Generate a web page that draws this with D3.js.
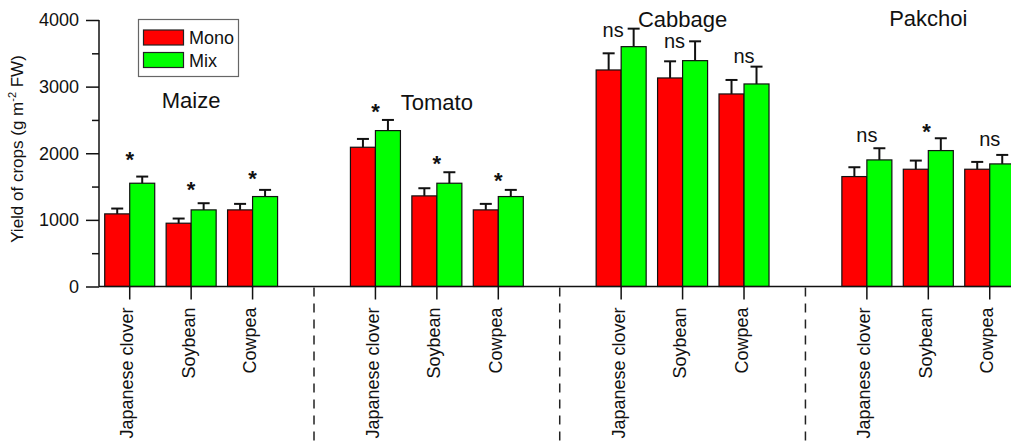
<!DOCTYPE html>
<html>
<head>
<meta charset="utf-8">
<script src="https://cdn.jsdelivr.net/npm/d3@7"></script>
<style>
  html, body { margin: 0; padding: 0; background: #fff; }
  svg { display: block; font-family: Arial, "Liberation Sans", Helvetica, sans-serif; }
</style>
</head>
<body>
<svg id="chart" width="1011" height="442"></svg>
<script>
// ---- data ----
const groups = ["Maize", "Tomato", "Cabbage", "Pakchoi"];
const crops = ["Japanese clover", "Soybean", "Cowpea"];
const series = ["Mono", "Mix"];
const monoValues = [[1090, 950, 1150], [2090, 1360, 1150], [3250, 3130, 2890], [1650, 1760, 1760]];
const monoErrors = [[80, 70, 90], [125, 115, 90], [250, 250, 210], [140, 130, 110]];
const mixValues  = [[1550, 1150, 1350], [2340, 1550, 1350], [3600, 3390, 3040], [1900, 2040, 1840]];
const mixErrors  = [[100, 100, 100], [160, 165, 100], [270, 290, 260], [175, 185, 135]];
const significance = [["*", "*", "*"], ["*", "*", "*"], ["ns", "ns", "ns"], ["ns", "*", "ns"]];
// baseline level (in yield units) at which each significance mark is written
const significanceLevel = [[1790, 1340, 1515], [2520, 1740, 1475], [3745, 3580, 3354], [2173, 2220, 2113]];
const yTicks = [0, 1000, 2000, 3000, 4000];
const yMinorTicks = [500, 1500, 2500, 3500];
const groupTitleLevel = [2680, 2650, 3895, 3910];
const seriesColors = ["#ff0000", "#00ff00"];

// ---- layout ----
const svg = d3.select("#chart");
const W = 1011, H = 442;
svg.append("rect").attr("width", W).attr("height", H).attr("fill", "#fff");

const axisX = 99, plotTop = 20, plotBottom = 286.5;

// slots: each group's crops followed by a separator slot
const slots = [];
groups.forEach((g, gi) => {
  crops.forEach(c => slots.push(g + "|" + c));
  if (gi < groups.length - 1) slots.push("sep" + gi);
});
const x = d3.scaleBand().domain(slots).range([axisX, axisX + 15 * 61.43]).padding(0);
const step = x.bandwidth();
const cx = key => x(key) + step / 2;
const inner = d3.scaleBand().domain(series).range([-step * 0.407, step * 0.407]).padding(0);

const y = d3.scaleLinear().domain([0, 4000]).range([plotBottom, plotTop]);

// records
const records = [];
groups.forEach((g, gi) => crops.forEach((c, ci) => {
  records.push({ g, c, gi, ci, key: g + "|" + c, series: "Mono", v: monoValues[gi][ci], e: monoErrors[gi][ci] });
  records.push({ g, c, gi, ci, key: g + "|" + c, series: "Mix", v: mixValues[gi][ci], e: mixErrors[gi][ci] });
}));
const errX = d => cx(d.key) + inner(d.series) + inner.bandwidth() / 2;

const plot = svg.append("g");

// separators (dashed)
groups.slice(0, -1).forEach((g, gi) => {
  plot.append("line")
    .attr("x1", cx("sep" + gi)).attr("x2", cx("sep" + gi))
    .attr("y1", plotBottom + 1).attr("y2", H)
    .attr("stroke", "#222").attr("stroke-width", 1.5)
    .attr("stroke-dasharray", "9,7");
});

// bars
plot.selectAll("rect.bar").data(records).join("rect")
  .attr("class", "bar")
  .attr("x", d => cx(d.key) + inner(d.series))
  .attr("width", inner.bandwidth())
  .attr("y", d => y(d.v))
  .attr("height", d => y(0) - y(d.v))
  .attr("fill", d => seriesColors[series.indexOf(d.series)])
  .attr("stroke", "#111").attr("stroke-width", 1.2);

// error bars
const eb = plot.selectAll("g.err").data(records).join("g").attr("class", "err")
  .attr("stroke", "#111").attr("stroke-width", 2);
eb.append("line")
  .attr("x1", errX).attr("x2", errX)
  .attr("y1", d => y(d.v)).attr("y2", d => y(d.v + d.e));
eb.append("line")
  .attr("x1", d => errX(d) - 6).attr("x2", d => errX(d) + 6)
  .attr("y1", d => y(d.v + d.e)).attr("y2", d => y(d.v + d.e));

// significance marks
groups.forEach((g, gi) => crops.forEach((c, ci) => {
  const key = g + "|" + c;
  const top = Math.max(monoValues[gi][ci] + monoErrors[gi][ci], mixValues[gi][ci] + mixErrors[gi][ci]);
  const lvl = significanceLevel[gi][ci];
  const s = significance[gi][ci];
  // if the mark sits lower than the tallest error bar, put it to the left of the Mix error bar
  const tucked = lvl < top;
  const mixErrX = cx(key) + inner("Mix") + inner.bandwidth() / 2;
  plot.append("text")
    .attr("x", tucked ? mixErrX - 10 : cx(key))
    .attr("y", y(lvl))
    .attr("text-anchor", tucked ? "end" : "middle")
    .attr("font-size", s === "*" ? 22 : 20)
    .attr("font-weight", s === "*" ? "bold" : "normal")
    .attr("fill", "#111")
    .text(s);
}));

// group titles
groups.forEach((g, gi) => {
  plot.append("text")
    .attr("x", cx(g + "|" + crops[1]))
    .attr("y", y(groupTitleLevel[gi]))
    .attr("text-anchor", "middle")
    .attr("font-size", 22)
    .attr("fill", "#111")
    .text(g);
});

// y axis
const yAxisG = svg.append("g").attr("transform", `translate(${axisX},0)`);
yAxisG.call(d3.axisLeft(y).tickValues(yTicks).tickSize(13).tickPadding(7).tickFormat(d3.format("d")));
yAxisG.select(".domain").attr("d", `M0,${plotTop}V${plotBottom}`).attr("stroke", "#111").attr("stroke-width", 1.5);
yAxisG.selectAll(".tick line").attr("stroke", "#111").attr("stroke-width", 1.5);
yAxisG.selectAll(".tick text").attr("font-size", 18).attr("fill", "#111").attr("font-family", "Arial, 'Liberation Sans', sans-serif");
const yMinorG = svg.append("g").attr("transform", `translate(${axisX},0)`);
yMinorG.call(d3.axisLeft(y).tickValues(yMinorTicks).tickSize(7).tickFormat(""));
yMinorG.select(".domain").remove();
yMinorG.selectAll(".tick line").attr("stroke", "#111").attr("stroke-width", 1.5);

// x axis
const xAxisG = svg.append("g").attr("transform", `translate(0,${plotBottom})`);
const labelKeys = slots.filter(k => !k.startsWith("sep"));
xAxisG.call(d3.axisBottom(x).tickValues(labelKeys).tickSize(13).tickFormat(k => k.split("|")[1]));
xAxisG.select(".domain").attr("d", `M${axisX},0H${W + 20}`).attr("stroke", "#111").attr("stroke-width", 1.5);
xAxisG.selectAll(".tick line").attr("stroke", "#111").attr("stroke-width", 1.5);
xAxisG.selectAll(".tick text")
  .attr("font-size", 18).attr("fill", "#111")
  .attr("font-family", "Arial, 'Liberation Sans', sans-serif")
  .attr("text-anchor", "end")
  .attr("transform", "rotate(-90)")
  .attr("x", -21).attr("y", 0).attr("dy", "0.2em");

// y axis title
const yt = svg.append("text")
  .attr("transform", "translate(23,149) rotate(-90)")
  .attr("text-anchor", "middle")
  .attr("font-size", 17).attr("fill", "#111");
yt.append("tspan").text("Yield of crops (g m");
yt.append("tspan").attr("dy", -7).attr("font-size", 11).text("-2");
yt.append("tspan").attr("dy", 7).text(" FW)");

// legend
const lg = svg.append("g");
lg.append("rect").attr("x", 138.5).attr("y", 19.5).attr("width", 100).attr("height", 57)
  .attr("fill", "#fff").attr("stroke", "#666").attr("stroke-width", 1.2);
series.forEach((s, i) => {
  lg.append("rect").attr("x", 143.5).attr("y", 30 + i * 22.5).attr("width", 40).attr("height", 15)
    .attr("fill", seriesColors[i]).attr("stroke", "#222").attr("stroke-width", 1.2);
  lg.append("text").attr("x", 189).attr("y", 44 + i * 23).attr("font-size", 18).attr("fill", "#111").text(s);
});
</script>
</body>
</html>
